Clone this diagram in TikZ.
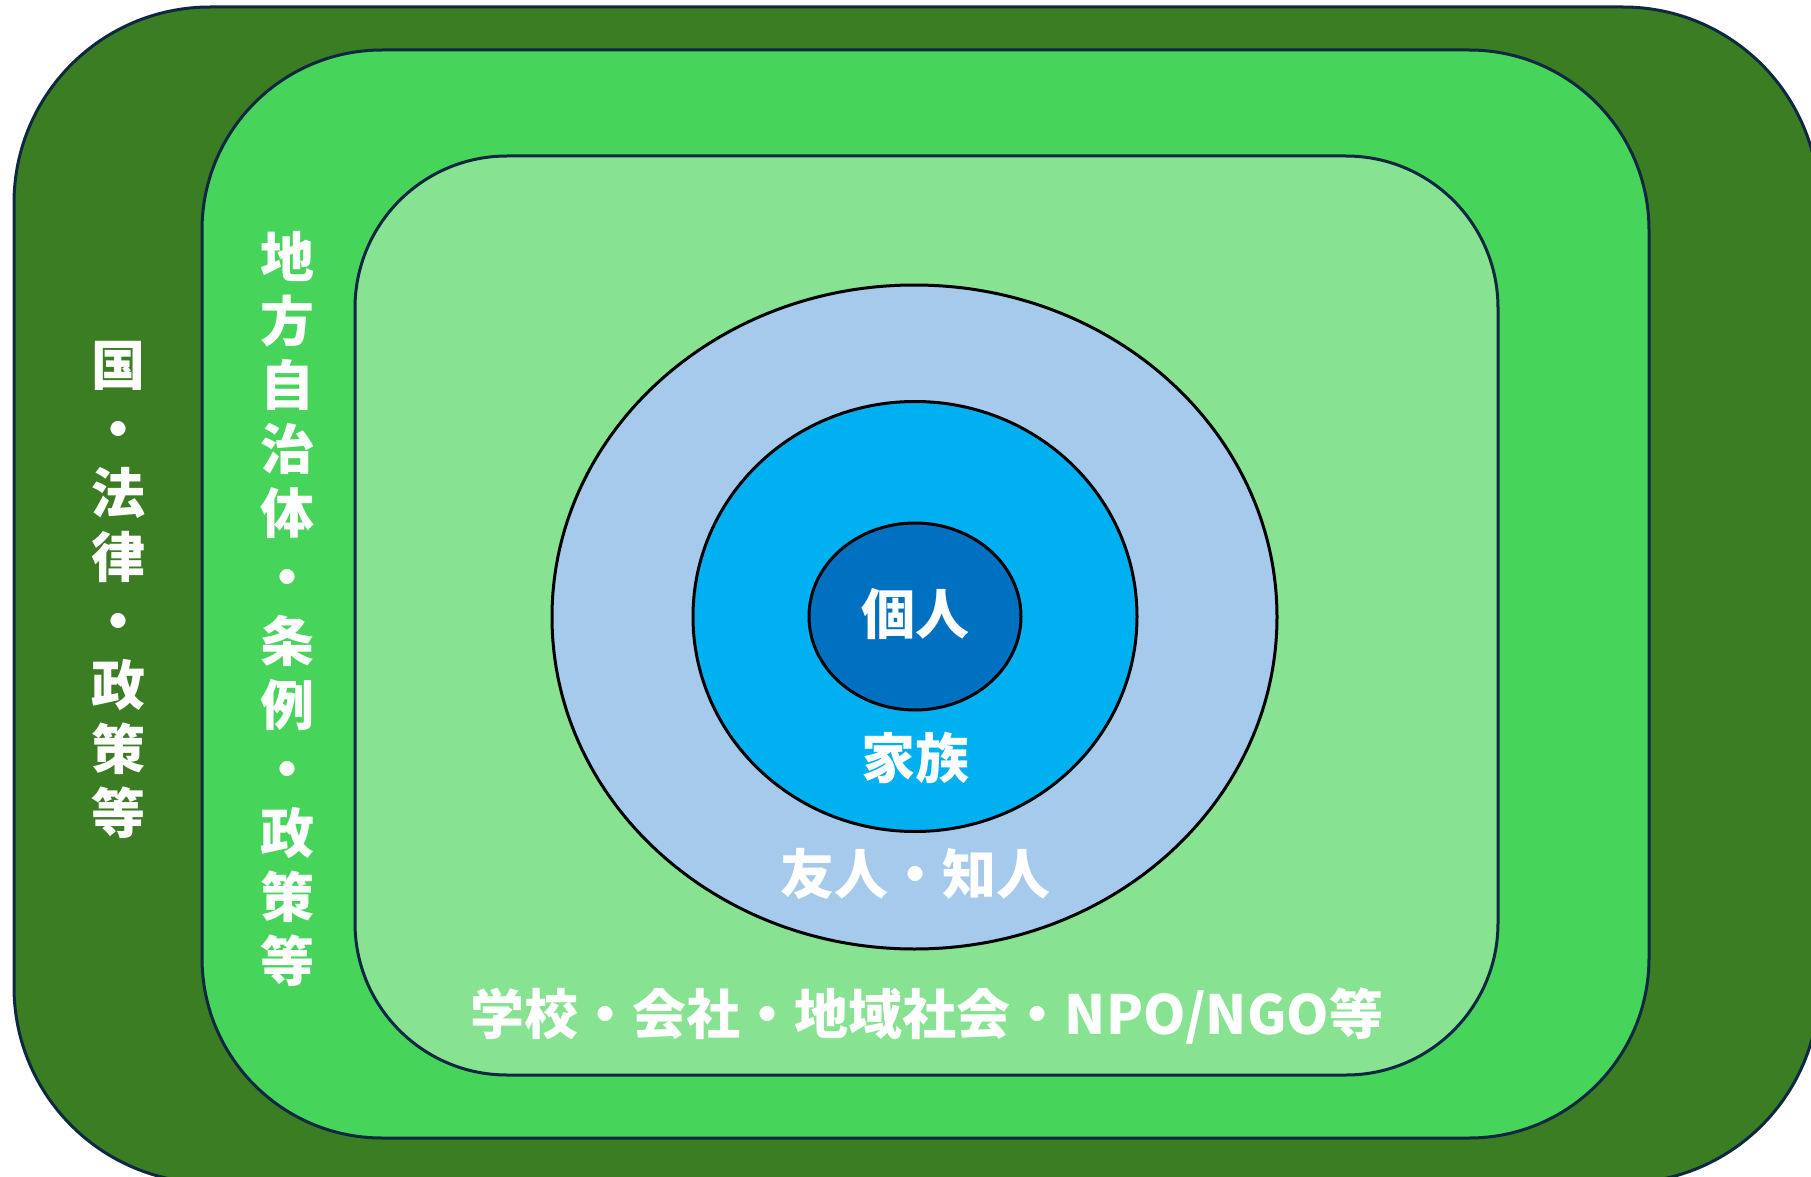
\documentclass[tikz,border=0pt]{standalone}
\usepackage{fontspec}
\newfontfamily\cjk{Noto Sans CJK JP}
\definecolor{outergreen}{HTML}{3A7D22}
\definecolor{midgreen}{HTML}{47D45A}
\definecolor{lightgreen}{HTML}{87E292}
\definecolor{paleblue}{HTML}{A6CAEC}
\definecolor{cyanblue}{HTML}{00B0F0}
\definecolor{deepblue}{HTML}{0070C0}
\definecolor{navyline}{HTML}{0E2841}
\tikzset{
  layer/.style={draw=navyline, line width=1.5pt},
  ring/.style={draw=black, line width=1.5pt},
  lbl/.style={text=white, font=\cjk\bfseries\fontsize{27}{32}\selectfont, inner sep=0pt},
  vlbl/.style={lbl, align=center},
}
\begin{document}
\begin{tikzpicture}[x=0.5pt,y=-0.5pt]
\useasboundingbox (0,0) rectangle (1811,1177);
\clip (0,0) rectangle (1811,1177);
\fill[white] (0,0) rectangle (1811,1177);
% nested rounded rectangles
\draw[layer, fill=outergreen, rounded corners=98pt] (14,7) rectangle (1819,1183);
\draw[layer, fill=midgreen, rounded corners=90pt] (202,50) rectangle (1649,1138);
\draw[layer, fill=lightgreen, rounded corners=76pt] (355,156) rectangle (1498,1075);
% ellipses
\draw[ring, fill=paleblue] (914.5,617) ellipse [x radius=362.5, y radius=332];
\draw[ring, fill=cyanblue] (915,616.5) ellipse [x radius=222, y radius=215];
\draw[ring, fill=deepblue] (915,616.5) ellipse [x radius=106, y radius=93.5];
% labels
\node[lbl] (kojin) at (915,614) {個人};
\node[lbl] (kazoku) at (915,758) {家族};
\node[lbl] (yujin) at (915,874) {友人・知人};
\node[lbl] (gakko) at (927,1016) {学校・会社・地域社会・NPO/NGO等};
\node[vlbl] (kuni) at (118,590) {国\\・\\法\\律\\・\\政\\策\\等};
\node[vlbl] (chiho) at (287,609) {地\\方\\自\\治\\体\\・\\条\\例\\・\\政\\策\\等};
\end{tikzpicture}
\end{document}
